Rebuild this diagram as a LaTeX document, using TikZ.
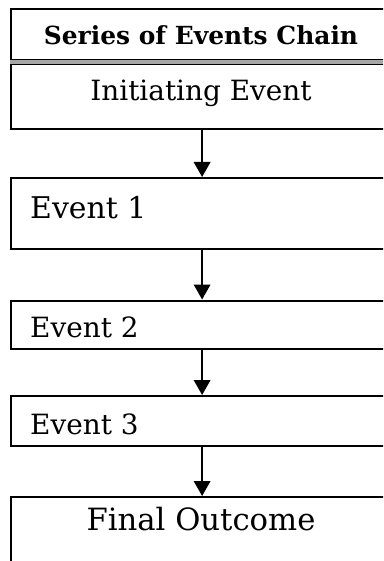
\documentclass[tikz,border=0pt]{standalone}
\usepackage{fontspec}
\setmainfont{DejaVu Serif}
\usetikzlibrary{arrows.meta}
\begin{document}
\begin{tikzpicture}[x=1bp,y=-1bp,
  boxstyle/.style={draw=black,line width=2.2bp,rectangle,minimum width=383bp,anchor=north west,inner sep=0pt},
  arr/.style={line width=2bp,-{Triangle[width=16.5bp,length=15bp]}},
  txt/.style={inner sep=0pt},
]
\path[use as bounding box,clip] (0,0) rectangle (383,561);
\fill[white] (0,0) rectangle (383,561);
% header box (title + initiating event)
\node[boxstyle,minimum height=120bp] (b0) at (9.5,8) {};
\fill[gray!70] (9.5,59.8) rectangle (393,64.2);
\draw[line width=1.2bp] (9.5,59.8) -- (393,59.8);
\draw[line width=1.2bp] (9.5,64.2) -- (393,64.2);
\node[txt,anchor=base] (title) at (201,45) {\fontsize{25}{28}\selectfont\bfseries Series of Events Chain};
\node[txt,anchor=base] (t0) at (201,100.5) {\fontsize{28}{31}\selectfont Initiating Event};
% event boxes
\node[boxstyle,minimum height=71bp] (b1) at (9.5,177) {};
\node[txt,anchor=base west] (t1) at (30,219) {\fontsize{30}{33}\selectfont Event 1};
\node[boxstyle,minimum height=48bp] (b2) at (9.5,299.5) {};
\node[txt,anchor=base west] (t2) at (30,337) {\fontsize{28}{31}\selectfont Event 2};
\node[boxstyle,minimum height=50bp] (b3) at (9.5,395) {};
\node[txt,anchor=base west] (t3) at (30,434) {\fontsize{28}{31}\selectfont Event 3};
\node[boxstyle,minimum height=90bp] (b4) at (9.5,496) {};
\node[txt,anchor=base] (t4) at (201,530) {\fontsize{30.8}{34}\selectfont Final Outcome};
% connectors
\draw[arr] (b0.south) -- (b1.north);
\draw[arr] (b1.south) -- (b2.north);
\draw[arr] (b2.south) -- (b3.north);
\draw[arr] (b3.south) -- (b4.north);
\end{tikzpicture}
\end{document}
